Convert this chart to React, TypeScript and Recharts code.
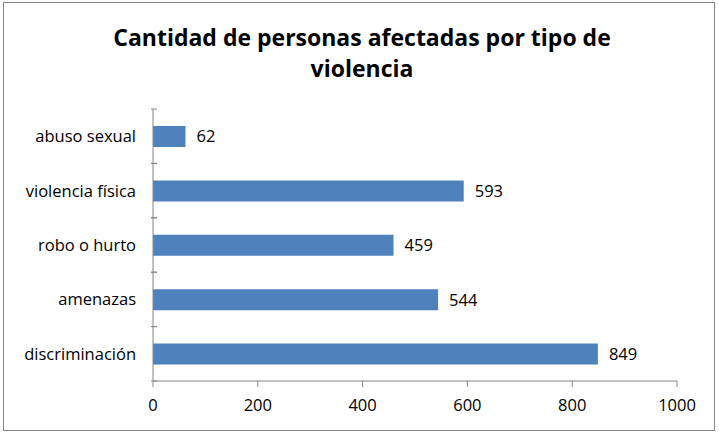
import { BarChart, Bar, XAxis, YAxis, LabelList } from 'recharts';

const categories = ['abuso sexual', 'violencia física', 'robo o hurto', 'amenazas', 'discriminación'];
const personas = [62, 593, 459, 544, 849];
const xTicks = [0, 200, 400, 600, 800, 1000];

const data = categories.map((tipo, i) => ({ tipo, personas: personas[i] }));

const FONT = '"Open Sans", Lato, sans-serif';
const PLOT_TOP = 109;
const PLOT_BOTTOM = 381;
const BAND = (PLOT_BOTTOM - PLOT_TOP) / categories.length;

// label plus the little tick marks on the band edges (excel style)
function CategoryTick(props: any) {
  const { x, y, payload } = props;
  const axisX = x + 12;
  return (
    <g>
      <line x1={axisX - 6} x2={axisX} y1={y - BAND / 2} y2={y - BAND / 2} stroke="#868686" />
      <line x1={axisX - 6} x2={axisX} y1={y + BAND / 2} y2={y + BAND / 2} stroke="#868686" />
      <text x={x - 9} y={y} dy={6} textAnchor="end" fill="#000" fontSize={16.5} fontFamily={FONT}>
        {payload.value}
      </text>
    </g>
  );
}

export default function App() {
  return (
    <div style={{ position: 'absolute', left: 0, top: 0, width: 719, height: 432, background: '#fff' }}>
      <div
        style={{
          position: 'absolute',
          left: 3,
          top: 2,
          width: 710,
          height: 427,
          border: '1px solid #868686',
        }}
      />
      <div
        style={{
          position: 'absolute',
          left: 0,
          top: 22,
          width: 724,
          textAlign: 'center',
          fontFamily: FONT,
          fontWeight: 'bold',
          fontSize: 23,
          lineHeight: '31px',
          color: '#000',
        }}
      >
        Cantidad de personas afectadas por tipo de
        <br />
        violencia
      </div>
      <div style={{ position: 'absolute', left: 0, top: 0 }}>
        <BarChart
          width={719}
          height={432}
          data={data}
          layout="vertical"
          margin={{ top: PLOT_TOP, bottom: 0, left: 0, right: 42 }}
        >
          <XAxis
            type="number"
            domain={[0, 1000]}
            ticks={xTicks}
            stroke="#868686"
            tickSize={6}
            tick={{ fill: '#000', fontSize: 16.5, fontFamily: FONT }}
            tickMargin={12}
            height={432 - PLOT_BOTTOM}
          />
          <YAxis
            type="category"
            dataKey="tipo"
            width={153}
            stroke="#868686"
            tickLine={false}
            tick={<CategoryTick />}
          />
          <Bar dataKey="personas" fill="#4F81BD" barSize={21} isAnimationActive={false}>
            <LabelList
              dataKey="personas"
              position="right"
              offset={11}
              fill="#000"
              fontSize={16.5}
              fontFamily={FONT}
            />
          </Bar>
        </BarChart>
      </div>
    </div>
  );
}
